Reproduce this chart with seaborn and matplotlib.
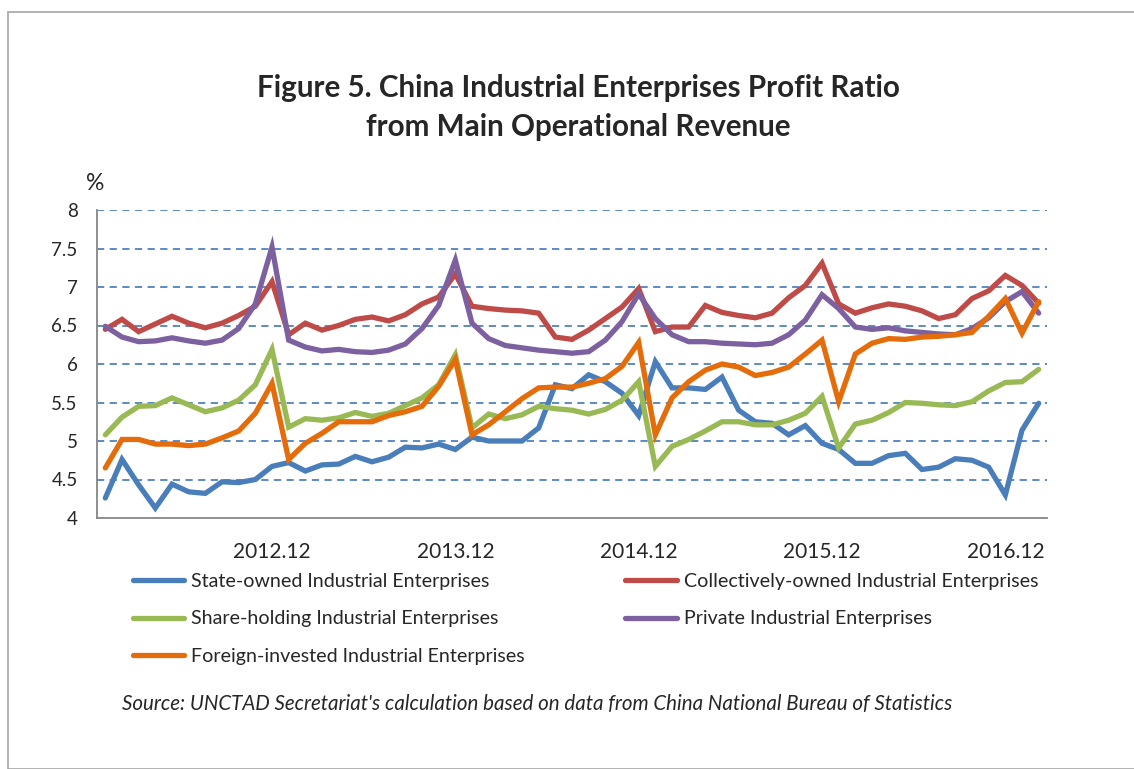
import pandas as pd
import numpy as np
import seaborn as sns
import matplotlib.pyplot as plt
from matplotlib.patches import Rectangle
from matplotlib.lines import Line2D

# periods: Jan-Feb combined, so each year starts at .02
periods = [f"{y}.{m:02d}" for y in range(2012, 2018) for m in range(2, 13)][:57]
tick_labels = ["2012.12", "2013.12", "2014.12", "2015.12", "2016.12"]

state_owned = [4.26, 4.76, 4.43, 4.13, 4.44, 4.34, 4.32, 4.47, 4.46, 4.50,
               4.67, 4.72, 4.61, 4.69, 4.70, 4.80, 4.73, 4.79, 4.92, 4.91,
               4.96, 4.89, 5.05, 5.00, 5.00, 5.00, 5.17, 5.73, 5.68, 5.86,
               5.77, 5.62, 5.33, 6.03, 5.69, 5.69, 5.67, 5.83, 5.40, 5.25,
               5.23, 5.08, 5.20, 4.97, 4.89, 4.71, 4.71, 4.81, 4.84, 4.63,
               4.66, 4.77, 4.75, 4.66, 4.30, 5.14, 5.49]
collectively_owned = [6.45, 6.58, 6.42, 6.52, 6.62, 6.53, 6.47, 6.53, 6.63, 6.75,
                      7.07, 6.38, 6.53, 6.44, 6.50, 6.58, 6.61, 6.56, 6.64, 6.78,
                      6.87, 7.17, 6.75, 6.72, 6.70, 6.69, 6.66, 6.35, 6.32, 6.44,
                      6.59, 6.74, 6.98, 6.42, 6.48, 6.48, 6.76, 6.67, 6.63, 6.60,
                      6.66, 6.86, 7.02, 7.31, 6.78, 6.66, 6.73, 6.78, 6.75, 6.69,
                      6.59, 6.64, 6.85, 6.95, 7.15, 7.02, 6.79]
share_holding = [5.08, 5.31, 5.45, 5.46, 5.56, 5.47, 5.38, 5.43, 5.53, 5.73,
                 6.19, 5.18, 5.29, 5.27, 5.30, 5.37, 5.32, 5.36, 5.46, 5.56,
                 5.73, 6.12, 5.17, 5.35, 5.29, 5.34, 5.45, 5.42, 5.40, 5.35,
                 5.41, 5.53, 5.77, 4.67, 4.93, 5.02, 5.13, 5.25, 5.25, 5.21,
                 5.21, 5.27, 5.36, 5.58, 4.91, 5.22, 5.27, 5.37, 5.50, 5.49,
                 5.47, 5.46, 5.51, 5.65, 5.76, 5.77, 5.93]
private = [6.49, 6.35, 6.29, 6.30, 6.34, 6.30, 6.27, 6.31, 6.46, 6.78,
           7.52, 6.31, 6.22, 6.17, 6.19, 6.16, 6.15, 6.18, 6.26, 6.46,
           6.76, 7.35, 6.53, 6.33, 6.24, 6.21, 6.18, 6.16, 6.14, 6.16,
           6.31, 6.55, 6.91, 6.59, 6.38, 6.29, 6.29, 6.27, 6.26, 6.25,
           6.27, 6.38, 6.57, 6.90, 6.72, 6.48, 6.45, 6.47, 6.43, 6.41,
           6.39, 6.38, 6.46, 6.60, 6.81, 6.94, 6.66]
foreign_invested = [4.65, 5.02, 5.02, 4.96, 4.96, 4.94, 4.96, 5.04, 5.13, 5.36,
                    5.75, 4.76, 4.97, 5.10, 5.25, 5.25, 5.25, 5.33, 5.38, 5.45,
                    5.71, 6.06, 5.08, 5.21, 5.38, 5.55, 5.69, 5.70, 5.70, 5.75,
                    5.81, 5.97, 6.28, 5.08, 5.56, 5.77, 5.92, 6.00, 5.96, 5.85,
                    5.89, 5.96, 6.13, 6.31, 5.51, 6.13, 6.27, 6.33, 6.32, 6.35,
                    6.36, 6.38, 6.41, 6.62, 6.85, 6.40, 6.81]

series_names = ["State-owned Industrial Enterprises",
                "Collectively-owned Industrial Enterprises",
                "Share-holding Industrial Enterprises",
                "Private Industrial Enterprises",
                "Foreign-invested Industrial Enterprises"]
colors = ["#4A7EBB", "#BE4B48", "#98B954", "#7D60A0", "#E46C0A"]

# long-form table for seaborn
frames = []
for name, vals in zip(series_names, [state_owned, collectively_owned, share_holding, private, foreign_invested]):
    frames.append(pd.DataFrame({"idx": np.arange(len(periods)), "period": periods, "value": vals, "series": name}))
df = pd.concat(frames, ignore_index=True)

sns.set_style("white")
plt.rcParams['font.family'] = ['Lato', 'DejaVu Sans']

fig = plt.figure(figsize=(11.34, 7.69), dpi=100)
ax = fig.add_axes([97 / 1134, 1 - 518 / 769, 950 / 1134, 308 / 769])

sns.lineplot(data=df, x="idx", y="value", hue="series", hue_order=series_names,
             palette=dict(zip(series_names, colors)), linewidth=3.8, legend=False, ax=ax,
             solid_joinstyle="miter")

ax.set_xlim(-0.5, len(periods) - 0.5)
ax.set_ylim(4, 8)
ax.set_yticks(np.arange(4, 8.01, 0.5))
ax.set_yticklabels(["4", "4.5", "5", "5.5", "6", "6.5", "7", "7.5", "8"], fontsize=13.5)
for yv in np.arange(4.5, 8.01, 0.5):
    ax.axhline(yv, color="#4F81BD", lw=1.3, ls=(0, (4, 3)), zorder=0)

# labels at year-end, tick marks between categories
ax.set_xticks([periods.index(t) for t in tick_labels])
ax.set_xticklabels(tick_labels, fontsize=15)
ax.set_xticks(np.arange(-0.5, len(periods)), minor=True)
ax.tick_params(axis="x", which="major", length=0, pad=17)
ax.tick_params(axis="x", which="minor", length=6, width=1.2, color="#868686", direction="out")
ax.tick_params(axis="y", length=6, width=1.2, color="#868686", direction="out", pad=8)
ax.set_xlabel("")
ax.set_ylabel("")
for s in ["top", "right"]:
    ax.spines[s].set_visible(False)
for s in ["left", "bottom"]:
    ax.spines[s].set_color("#868686")
    ax.spines[s].set_linewidth(1.3)

fig.text(95 / 1134, 1 - 183 / 769, "%", fontsize=16.5, ha="center", va="center")
fig.text(578 / 1134, 1 - 88 / 769, "Figure 5. China Industrial Enterprises Profit Ratio",
         fontsize=21.3, fontweight="bold", ha="center", va="center")
fig.text(578 / 1134, 1 - 127 / 769, "from Main Operational Revenue",
         fontsize=21.3, fontweight="bold", ha="center", va="center")

# legend: column-wise order
order = [0, 2, 4, 1, 3]
handles = [Line2D([], [], color=colors[i], lw=3.8) for i in order]
fig.legend(handles, [series_names[i] for i in order], ncol=2, frameon=False,
           loc="upper left", bbox_to_anchor=(115 / 1134, 1 - 555 / 769),
           fontsize=14.1, handlelength=2.64, handletextpad=0.36, columnspacing=5.1,
           labelspacing=1.06)

fig.text(122 / 1134, 1 - 704 / 769,
         "Source: UNCTAD Secretariat's calculation based on data from China National Bureau of Statistics",
         fontsize=14.8, style="italic", ha="left", va="center")

fig.patches.append(Rectangle((8 / 1134, 0), 1.2, 1 - 12 / 769, transform=fig.transFigure,
                             fill=False, edgecolor="#A6A6A6", lw=1.2))

fig.savefig("out.png", dpi=100)
